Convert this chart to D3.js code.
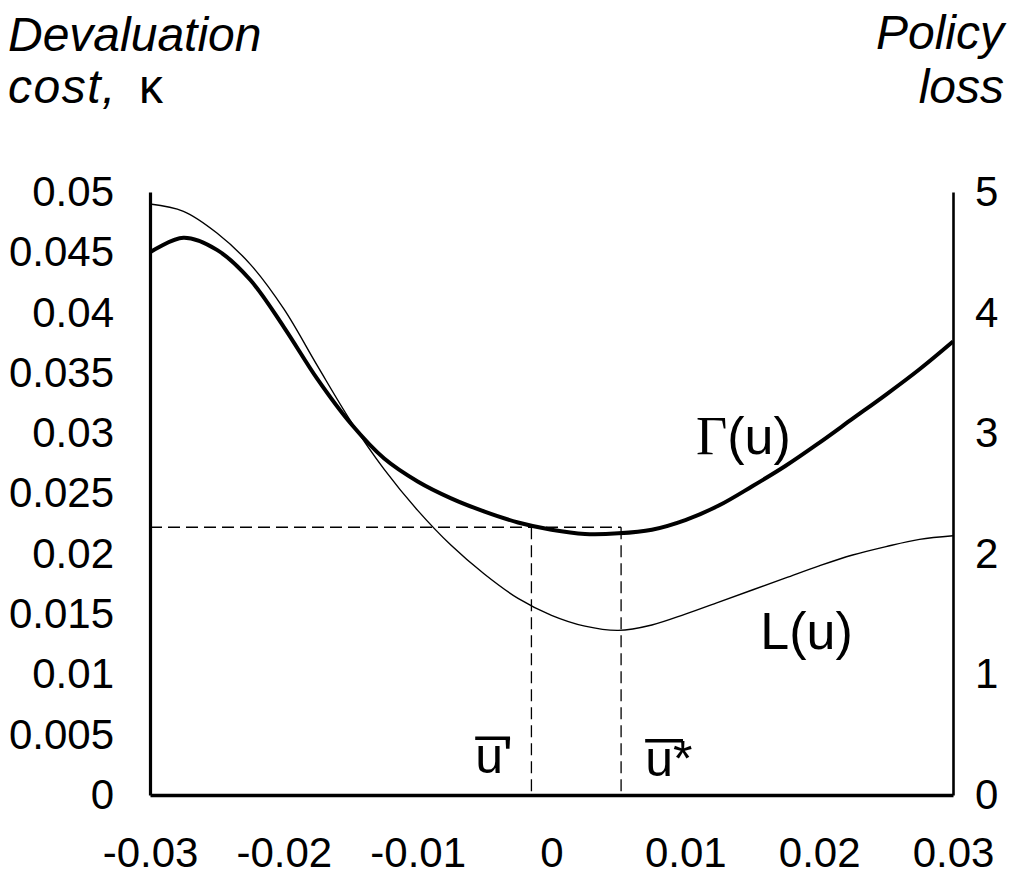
<!DOCTYPE html>
<html><head><meta charset="utf-8">
<script src="https://cdn.jsdelivr.net/npm/d3@7"></script>
<style>
html,body{margin:0;padding:0;background:#fff;}
svg{display:block;}
text{font-family:"Liberation Sans",Arial,sans-serif;fill:#000;}
</style></head>
<body>
<svg id="chart" width="1012" height="890"></svg>
<script>
// ---- data ----
const uGrid = [-0.030,-0.0275,-0.025,-0.0225,-0.020,-0.0175,-0.015,-0.0125,-0.010,-0.0075,-0.005,-0.0025,0,
  0.0025,0.005,0.0075,0.010,0.0125,0.015,0.0175,0.020,0.0225,0.025,0.0275,0.030];
const gammaLoss = [4.50,4.62,4.52,4.27,3.88,3.45,3.08,2.79,2.60,2.46,2.35,2.26,2.20,
  2.165,2.17,2.20,2.28,2.40,2.56,2.73,2.92,3.12,3.32,3.53,3.76];
const lLoss = [4.90,4.84,4.66,4.40,4.03,3.56,3.10,2.70,2.36,2.07,1.83,1.63,1.49,
  1.40,1.365,1.41,1.50,1.60,1.70,1.80,1.90,1.99,2.06,2.12,2.15];
const xTicks = [-0.03,-0.02,-0.01,0,0.01,0.02,0.03];
const xTickLabels = ["-0.03","-0.02","-0.01","0","0.01","0.02","0.03"];
const kTicks = [0.05,0.045,0.04,0.035,0.03,0.025,0.02,0.015,0.01,0.005,0];
const kTickLabels = ["0.05","0.045","0.04","0.035","0.03","0.025","0.02","0.015","0.01","0.005","0"];
const lossTicks = [5,4,3,2,1,0];
const kappaBar = 0.0222;      // dashed horizontal level
const uPrime = -0.0015;       // u-bar'
const uStar = 0.0052;         // u-bar*

// ---- layout ----
const svg = d3.select("#chart");
const mLeft = 150, mRight = 953, mTop = 192, mBottom = 795;
const x = d3.scaleLinear().domain([-0.03,0.03]).range([mLeft,mRight]);
const yK = d3.scaleLinear().domain([0,0.05]).range([mBottom,mTop]);
const yL = d3.scaleLinear().domain([0,5]).range([mBottom,mTop]);

// axes
const axL = svg.append("g").attr("transform",`translate(${mLeft},0)`)
  .call(d3.axisLeft(yK).tickValues(kTicks).tickFormat((d,i)=>kTickLabels[i]).tickSize(0).tickSizeOuter(0).tickPadding(36));
const axR = svg.append("g").attr("transform",`translate(${mRight},0)`)
  .call(d3.axisRight(yL).tickValues(lossTicks).tickFormat(d3.format("d")).tickSize(0).tickSizeOuter(0).tickPadding(22));
const axB = svg.append("g").attr("transform",`translate(0,${mBottom})`)
  .call(d3.axisBottom(x).tickValues(xTicks).tickFormat((d,i)=>xTickLabels[i]).tickSize(0).tickSizeOuter(0).tickPadding(42));
[axL,axR,axB].forEach(a=>{
  a.selectAll("text").style("font-size","42px").attr("fill","#000");
  a.select(".domain").attr("stroke","#000");
});
axL.select(".domain").attr("stroke-width",3.2);
axR.select(".domain").attr("stroke-width",2.6);
axB.select(".domain").attr("stroke-width",3.4);

// dashed guides
const g = svg.append("g").attr("stroke","#000").attr("stroke-width",1.3).attr("stroke-dasharray","12,6").attr("fill","none");
g.append("line").attr("x1",x(-0.03)).attr("x2",x(uStar)).attr("y1",yK(kappaBar)).attr("y2",yK(kappaBar));
g.append("line").attr("x1",x(uPrime)).attr("x2",x(uPrime)).attr("y1",yK(kappaBar)).attr("y2",yK(0));
g.append("line").attr("x1",x(uStar)).attr("x2",x(uStar)).attr("y1",yK(kappaBar)).attr("y2",yK(0));

// curves
const line = d3.line().x((d,i)=>x(uGrid[i])).y(d=>yL(d)).curve(d3.curveCatmullRom.alpha(0.5));
svg.append("path").datum(lLoss).attr("d",line).attr("fill","none").attr("stroke","#000").attr("stroke-width",1.4);
svg.append("path").datum(gammaLoss).attr("d",line).attr("fill","none").attr("stroke","#000").attr("stroke-width",4);

// axis titles
svg.append("text").attr("x",8).attr("y",51).style("font-size","48px").style("font-style","italic").text("Devaluation");
const t2 = svg.append("text").attr("x",8).attr("y",103).style("font-size","48px");
t2.append("tspan").style("font-style","italic").style("letter-spacing","1.5px").text("cost,");
t2.append("tspan").attr("dx",22).text("κ");
svg.append("text").attr("x",1004).attr("y",49).attr("text-anchor","end").style("font-size","48px").style("font-style","italic").text("Policy");
svg.append("text").attr("x",1004).attr("y",103).attr("text-anchor","end").style("font-size","48px").style("font-style","italic").text("loss");

// curve labels
const gl = svg.append("text").attr("x",x(0.0108)).attr("y",yL(2.83)).style("font-size","52px");
gl.append("tspan").style("font-family","'Liberation Serif',serif").style("font-size","54px").text("Γ");
gl.append("tspan").text("(u)");
svg.append("text").attr("x",x(0.0156)).attr("y",yL(1.21)).style("font-size","52px").text("L(u)");

// u-bar labels
function ubar(u, v, mark){
  const t = svg.append("text").attr("x",x(u)).attr("y",yL(v)).style("font-size","50px");
  t.append("tspan").text("u");
  t.append("tspan").text(mark);
  const bb = t.node().getBBox();
  const uw = t.select("tspan").node().getComputedTextLength();
  svg.append("line").attr("x1",bb.x).attr("x2",bb.x+uw+(mark==="'"?7:10))
    .attr("y1",yL(v)-35).attr("y2",yL(v)-35).attr("stroke","#000").attr("stroke-width",3.5);
}
ubar(-0.0057, 0.18, "'");
ubar(0.0070, 0.16, "*");
</script>
</body></html>
